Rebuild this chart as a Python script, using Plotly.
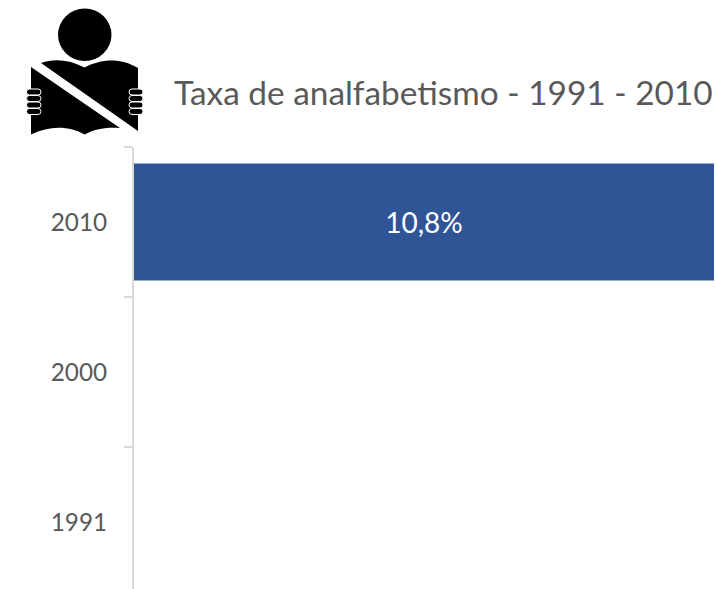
import plotly.graph_objects as go

categories = ["1991", "2000", "2010"]
values = [None, None, 10.8]
labels = ["", "", "10,8%"]
title_text = "Taxa de analfabetismo - 1991 - 2010"

W, H = 716, 589
X0, X1, Y0, Y1 = 134, 714, 147, 589
FONT = "Lato"
GREY = "#595959"


def px(x):
    return x / W


def py(y):
    return 1 - y / H


def path(cmds):
    s = ""
    for c in cmds:
        if isinstance(c, str):
            s += c
        else:
            s += f"{px(c[0]):.5f},{py(c[1]):.5f} "
    return s


def pill(xl, xr, yt, yb):
    r = (yb - yt) / 2
    return path(["M", (xl + r, yt), "L", (xr - r, yt), "Q", (xr, yt), (xr, yt + r),
                 "Q", (xr, yb), (xr - r, yb), "L", (xl + r, yb),
                 "Q", (xl, yb), (xl, yt + r), "Q", (xl, yt), (xl + r, yt), "Z"])


fig = go.Figure(
    go.Bar(
        y=categories,
        x=values,
        orientation="h",
        width=0.78,
        marker=dict(color="#2F5597", line=dict(width=0)),
        text=labels,
        textposition="inside",
        insidetextanchor="middle",
        textangle=0,
        textfont=dict(color="white", size=28, family=FONT),
        hoverinfo="skip",
    )
)

shapes = []
S = dict(xref="paper", yref="paper", line=dict(width=0), layer="above")
# head
shapes.append(dict(type="circle", x0=px(58), x1=px(111.5), y0=py(61), y1=py(8.5),
                   fillcolor="black", **S))
# book, lower-left part
shapes.append(dict(type="path", fillcolor="black", path=path([
    "M", (31, 67), "L", (120, 128), "C", (105, 127), (95, 129), (84.5, 134.5),
    "C", (70, 126), (50, 125), (31, 134.5), "Z"]), **S))
# book, upper-right part
shapes.append(dict(type="path", fillcolor="black", path=path([
    "M", (41, 63), "C", (55, 58), (70, 60), (84.5, 67.5),
    "C", (100, 59), (120, 57), (138, 68), "L", (138, 131), "Z"]), **S))
# fingers
for xl, xr in [(26.5, 41), (129, 143)]:
    for yc in [92, 98.5, 105, 111.5]:
        shapes.append(dict(type="path", path=pill(xl, xr, yc - 3, yc + 3),
                           xref="paper", yref="paper", fillcolor="black",
                           line=dict(color="white", width=1), layer="above"))

fig.update_layout(
    width=W,
    height=H,
    autosize=False,
    margin=dict(l=0, r=0, t=0, b=0),
    paper_bgcolor="white",
    plot_bgcolor="white",
    showlegend=False,
    font=dict(family=FONT, color=GREY),
    title=dict(
        text=title_text,
        font=dict(size=33.4, color=GREY, family=FONT),
        x=174 / W,
        xanchor="left",
        y=py(93),
        yanchor="middle",
    ),
    xaxis=dict(domain=[px(X0), px(X1)], range=[0, 10.8], visible=False, fixedrange=True),
    yaxis=dict(
        domain=[py(Y1), py(Y0)],
        type="category",
        categoryorder="array",
        categoryarray=categories,
        range=[-0.4467, 2.5],
        tickson="boundaries",
        ticks="outside",
        ticklen=8,
        tickwidth=1.5,
        tickcolor="#D9D9D9",
        showline=True,
        linecolor="#D9D9D9",
        linewidth=2,
        showgrid=False,
        tickfont=dict(size=24.3, color=GREY, family=FONT),
        ticklabelstandoff=20,
        fixedrange=True,
    ),
    shapes=shapes,
)

fig.write_html(
    "out.html",
    config={"displayModeBar": False},
    post_script="document.body.style.margin='0';document.body.style.overflow='hidden';",
)
